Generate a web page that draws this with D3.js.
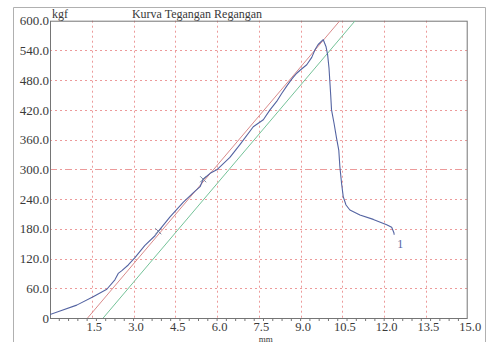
<!DOCTYPE html>
<html><head><meta charset="utf-8">
<script src="https://cdn.jsdelivr.net/npm/d3@7"></script>
<style>
html,body{margin:0;padding:0;background:#fff;}
svg{display:block;}
text{font-family:"Liberation Serif","Times New Roman",serif;fill:#3a3a3a;}
</style></head>
<body>
<svg id="c" width="487" height="342"></svg>
<script>
// ---- data ----
const xTickValues = [1.5, 3.0, 4.5, 6.0, 7.5, 9.0, 10.5, 12.0, 13.5, 15.0];
const yTickValues = [0, 60, 120, 180, 240, 300, 360, 420, 480, 540, 600];
const blueX = [0, 0.36, 0.96, 1.55, 2.04, 2.33, 2.45, 2.57, 2.81, 3.05, 3.4, 3.77, 3.89, 4.31, 4.79, 5.15, 5.39, 5.5, 5.75, 5.99, 6.46, 6.82, 7.3, 7.66, 7.9, 8.14, 8.32, 8.5, 8.68, 8.86, 8.98, 9.22, 9.4, 9.52, 9.63, 9.81, 9.91, 9.97, 10.02, 10.05, 10.08, 10.11, 10.2, 10.29, 10.37, 10.41, 10.47, 10.53, 10.63, 10.77, 11.13, 11.61, 12.09, 12.27, 12.35, 12.36];
const blueY = [7, 14, 26, 43, 58, 77, 90, 95, 107, 122, 146, 166, 175, 204, 234, 253, 265, 280, 292, 299, 324, 350, 386, 400, 420, 437, 453, 468, 482, 494, 500, 511, 526, 542, 552, 562, 548, 531, 504, 477, 450, 420, 393, 363, 339, 305, 272, 245, 228, 218, 208, 199, 188, 183, 172, 168];
const redX = [1.35, 10.41];
const redY = [0, 600];
const greenX = [1.91, 10.96];
const greenY = [0, 600];
const markX = [3.89, 5.5];
const markY = [175, 280];
const seriesLabel = "1";
const title = "Kurva Tegangan Regangan";
const yUnit = "kgf";
const xUnit = "mm";

// ---- layout ----
const L = 50, R = 467.7, T = 20.7, B = 318;
const svg = d3.select("#c");
const x = d3.scaleLinear().domain([0, 15]).range([L, R]);
const y = d3.scaleLinear().domain([0, 600]).range([B, T]);

// outer frame
svg.append("path").attr("d", `M13.5,342 V7.5 H485.5 V342`).attr("fill", "none").attr("stroke", "#b0b0b0").attr("stroke-width", 1);

const clip = svg.append("defs").append("clipPath").attr("id", "pc");
clip.append("rect").attr("x", L).attr("y", T).attr("width", R - L).attr("height", B - T);

// grid
const grid = svg.append("g");
grid.selectAll("line.v").data(xTickValues.filter(d => d < 15)).join("line")
  .attr("x1", d => Math.round(x(d)) + 0.5).attr("x2", d => Math.round(x(d)) + 0.5)
  .attr("y1", T).attr("y2", B)
  .attr("stroke", "#ec9a9a").attr("stroke-width", 1).attr("stroke-dasharray", "2,3");
grid.selectAll("line.h").data(yTickValues.filter(d => d > 0 && d < 600)).join("line")
  .attr("x1", L).attr("x2", R)
  .attr("y1", d => Math.round(y(d)) + 0.5).attr("y2", d => Math.round(y(d)) + 0.5)
  .attr("stroke", "#ec9a9a").attr("stroke-width", 1)
  .attr("stroke-dasharray", d => d === 300 ? "7,3,2,3" : "2,3");

// plot frame
svg.append("rect").attr("x", L + 0.5).attr("y", T + 0.5).attr("width", R - L - 1).attr("height", B - T)
  .attr("fill", "none").attr("stroke", "#757575").attr("stroke-width", 1);

// x axis (labels + minor ticks)
const xAxis = d3.axisBottom(x).tickValues(xTickValues).tickSize(0).tickPadding(4)
  .tickFormat(d3.format(".1f"));
const gx = svg.append("g").attr("transform", `translate(0,${B})`).call(xAxis);
gx.select(".domain").remove();
gx.selectAll("text").attr("font-size", 12.5).attr("fill", "#3a3a3a").attr("dx", 2)
  .style("font-family", '"Liberation Serif",serif');
const minor = d3.range(1, 45).map(i => i / 3);
svg.append("g").selectAll("line").data(minor).join("line")
  .attr("x1", d => x(d)).attr("x2", d => x(d)).attr("y1", B).attr("y2", B + 3)
  .attr("stroke", "#757575").attr("stroke-width", 1);

// y axis labels
const yAxis = d3.axisLeft(y).tickValues(yTickValues).tickSize(0).tickPadding(1)
  .tickFormat(d => d === 0 ? "0" : d3.format(".1f")(d));
const gy = svg.append("g").attr("transform", `translate(${L},0)`).call(yAxis);
gy.select(".domain").remove();
gy.selectAll("text").attr("font-size", 13).attr("fill", "#3a3a3a")
  .style("font-family", '"Liberation Serif",serif');

// lines
const pts = (xs, ys) => xs.map((v, i) => [v, ys[i]]);
const line = d3.line().x(d => x(d[0])).y(d => y(d[1]));
const plot = svg.append("g").attr("clip-path", "url(#pc)");
plot.append("path").datum(pts(redX, redY)).attr("d", line).attr("fill", "none")
  .attr("stroke", "#d98b8b").attr("stroke-width", 1);
plot.append("path").datum(pts(greenX, greenY)).attr("d", line).attr("fill", "none")
  .attr("stroke", "#74c298").attr("stroke-width", 1);
plot.append("path").datum(pts(blueX, blueY)).attr("d", line).attr("fill", "none")
  .attr("stroke", "#5464a2").attr("stroke-width", 1.1).attr("stroke-linejoin", "round");
// cross markers
plot.selectAll("path.m").data(pts(markX, markY)).join("path")
  .attr("d", d => { const cx = x(d[0]), cy = y(d[1]); return `M${cx-3},${cy-3}L${cx+3},${cy+3}M${cx-3},${cy+3}L${cx+3},${cy-3}`; })
  .attr("stroke", "#6a7a9a").attr("stroke-width", 0.9);

// series label
const lastX = blueX[blueX.length - 1], lastY = blueY[blueY.length - 1];
svg.append("text").attr("x", x(lastX) + 3).attr("y", y(lastY) + 13).attr("font-size", 12)
  .style("fill", "#5464a2").text(seriesLabel);

// title & units
svg.append("text").attr("x", 197).attr("y", 17.5).attr("text-anchor", "middle").attr("font-size", 12).text(title);
svg.append("text").attr("x", 52).attr("y", 17.5).attr("font-size", 12).text(yUnit);
svg.append("text").attr("x", x(7.5) + 7).attr("y", 341.5).attr("text-anchor", "middle").attr("font-size", 9).text(xUnit);
</script>
</body></html>
